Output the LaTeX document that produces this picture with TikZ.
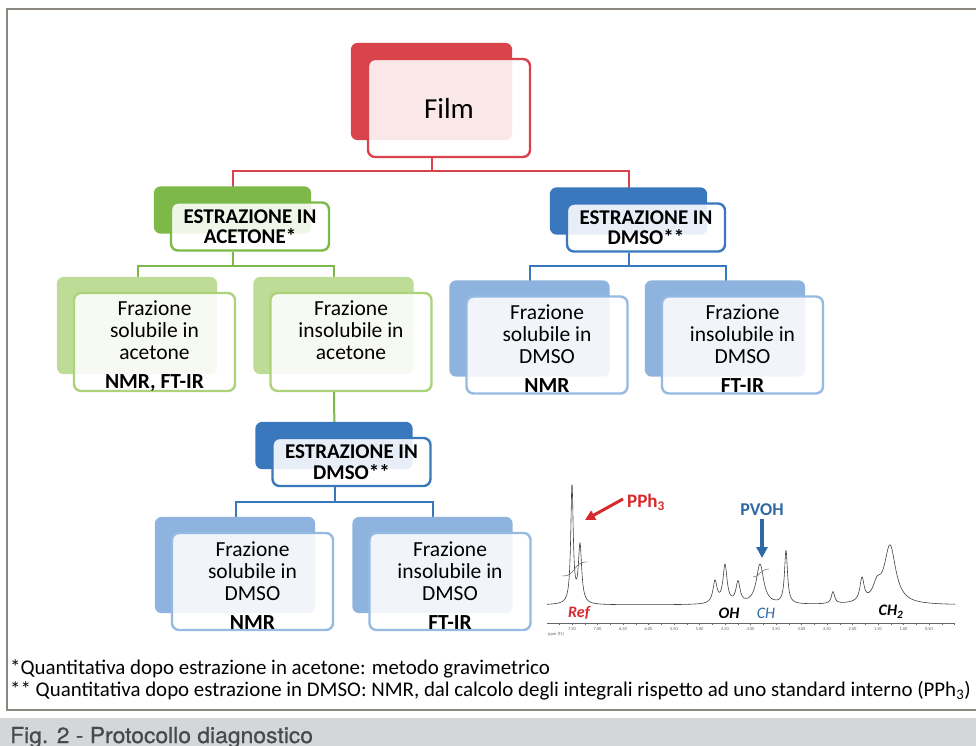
\documentclass[tikz,border=0pt]{standalone}
\usepackage{fontspec}
\setmainfont{Carlito}
\newfontfamily\capfont[FakeStretch=1.04, FakeBold=0.5]{TeX Gyre Heros}
\usetikzlibrary{calc,backgrounds,arrows.meta}

\definecolor{filmred}{RGB}{217,67,75}
\definecolor{acegreen}{RGB}{124,185,72}
\definecolor{acelight}{RGB}{190,220,150}
\definecolor{acerim}{RGB}{172,210,122}
\definecolor{dmsoblue}{RGB}{58,120,190}
\definecolor{dmsolight}{RGB}{141,179,222}
\definecolor{dmsorim}{RGB}{150,186,226}
\definecolor{framegrey}{RGB}{140,134,128}
\definecolor{capgrey}{RGB}{213,214,216}
\definecolor{captext}{RGB}{72,73,77}
\definecolor{pphred}{RGB}{215,40,45}
\definecolor{pvohblue}{RGB}{46,104,166}

\newcommand{\toprule}{\rule{0pt}{22pt}}

\tikzset{
	card/.style={draw, line width=2.4pt, rounded corners=7pt, fill=white, fill opacity=0.88, text opacity=1, inner sep=0pt, align=center},
	filmcard/.style={card, draw=filmred, minimum width=162pt, minimum height=98pt, font=\fontsize{29}{30}\selectfont},
	headcard/.style={card, minimum width=158pt, minimum height=48pt, font=\fontsize{21}{20.5}\selectfont\bfseries},
	fraccard/.style={card, minimum width=161pt, minimum height=97pt, font=\fontsize{21.5}{22}\selectfont},
	link/.style={line width=2pt},
	peaklabel/.style={inner sep=0pt, font=\fontsize{16}{16}\selectfont\bfseries\itshape},
	ticklabel/.style={inner sep=0pt, font=\fontsize{4.5}{4.5}\selectfont, text=black!60},
	note/.style={anchor=west, inner sep=0pt, font=\fontsize{20.9}{22}\selectfont},
}

\begin{document}
\begin{tikzpicture}[x=1pt, y=-1pt,
	declare function={lor(\d,\w,\h)=\h*\w*\w/(\w*\w+\d*\d);
		spec(\t)=lor(\t-57.2,0.15,118)+lor(\t-58.0,0.2,58)+lor(\t-71.5,0.25,22)
			+lor(\t-72.5,0.25,38)+lor(\t-73.8,0.25,21)+lor(\t-76.0,0.45,40)
			+lor(\t-78.6,0.18,53)+lor(\t-83.3,0.2,12)+lor(\t-86.2,0.25,23)
			+lor(\t-87.7,0.5,15)+lor(\t-89.0,0.7,58);}]
	\useasboundingbox (0,0) rectangle (976,746);
	\pgfmathsetmacro{\dx}{-17}		%connectors run left of the card centre
	\pgfmathsetmacro{\bar}{13}		%drop down to the horizontal bar

	%frame and caption band
	\draw[framegrey, line width=1.6pt] (990,710) -- (7,710) -- (7,9) -- (990,9);
	\fill[capgrey] (0,718) rectangle (976,746);

	%cards
	\node[filmcard] (film) at (449,108) {Film};
	\node[headcard, draw=acegreen] (acehead) at (250,226.5) {ESTRAZIONE IN\\ACETONE*};
	\node[headcard, draw=dmsoblue] (dmsohead) at (646,227.5) {ESTRAZIONE IN\\DMSO**};
	\node[fraccard, draw=acerim] (acesol) at (154.5,342) {\toprule Frazione\\solubile in\\acetone\\[7pt]\textbf{NMR, FT-IR}};
	\node[fraccard, draw=acerim] (aceins) at (351,342) {\toprule Frazione\\insolubile in\\acetone\\[7pt]\textbf{\phantom{NMR, FT-IR}}};
	\node[fraccard, draw=dmsorim] (dmsosol) at (547,345) {\toprule Frazione\\solubile in\\DMSO\\[7pt]\textbf{NMR}};
	\node[fraccard, draw=dmsorim] (dmsoins) at (742.5,345) {\toprule Frazione\\insolubile in\\DMSO\\[7pt]\textbf{FT-IR}};
	\node[headcard, draw=dmsoblue] (dmsoheadb) at (351.5,462) {ESTRAZIONE IN\\DMSO**};
	\node[fraccard, draw=dmsorim] (dmsosolb) at (252.5,581.5) {\toprule Frazione\\solubile in\\DMSO\\[7pt]\textbf{NMR}};
	\node[fraccard, draw=dmsorim] (dmsoinsb) at (450,581.5) {\toprule Frazione\\insolubile in\\DMSO\\[7pt]\textbf{FT-IR}};

	\begin{pgfonlayer}{background}
		%connectors
		\draw[link, filmred] ($(film.south)+(\dx,0)$) -- ++(0,\bar) -| ($(acehead.north)+(\dx,0)$);
		\draw[link, filmred] ($(film.south)+(\dx,0)$) -- ++(0,\bar) -| ($(dmsohead.north)+(\dx,0)$);
		\draw[link, acegreen] ($(acehead.south)+(\dx,0)$) -- ++(0,14) -| ($(acesol.north)+(\dx,0)$);
		\draw[link, acegreen] ($(acehead.south)+(\dx,0)$) -- ++(0,14) -| ($(aceins.north)+(\dx,0)$);
		\draw[link, acegreen] ($(aceins.south)+(\dx,0)$) -- ($(dmsoheadb.north)+(\dx,0)$);
		\draw[link, dmsoblue] ($(dmsohead.south)+(\dx,0)$) -- ++(0,13) -| ($(dmsosol.north)+(\dx,0)$);
		\draw[link, dmsoblue] ($(dmsohead.south)+(\dx,0)$) -- ++(0,13) -| ($(dmsoins.north)+(\dx,0)$);
		\draw[link, dmsoblue] ($(dmsoheadb.south)+(\dx,0)$) -- ++(0,15) -| ($(dmsosolb.north)+(\dx,0)$);
		\draw[link, dmsoblue] ($(dmsoheadb.south)+(\dx,0)$) -- ++(0,15) -| ($(dmsoinsb.north)+(\dx,0)$);

		%shadow cards behind
		\foreach \n/\c in {film/filmred, acehead/acegreen, dmsohead/dmsoblue, acesol/acelight, aceins/acelight,
			dmsosol/dmsolight, dmsoins/dmsolight, dmsoheadb/dmsoblue, dmsosolb/dmsolight, dmsoinsb/dmsolight}
			\fill[\c, rounded corners=7pt] ($(\n.north west)+(-16,-15)$) rectangle ($(\n.south east)+(-19,-18)$);
	\end{pgfonlayer}

	%spectrum
	\draw[black!75, line width=0.6pt] plot[domain=54.7:95.5, samples=1200] (10*\x, {605-spec(\x)});
	\draw[black!70, line width=0.4pt] (562,576) .. controls (576,577) and (573,561) .. (588,562);
	\draw[black!70, line width=0.4pt] (753,577) .. controls (761,576) and (760,569) .. (769,569);
	\draw[black!60, line width=0.5pt] (547,623) -- (955,623);
	\foreach \k in {-1,...,30}
		\draw[black!60, line width=0.4pt] (572+\k*12.75,623) -- ++(0,2);
	\foreach \v [count=\i from 0] in {7.50,7.00,6.50,6.00,5.50,5.00,4.50,4.00,3.50,3.00,2.50,2.00,1.50,1.00,0.50}
		\node[ticklabel] (tick\i) at (572+\i*25.5,629) {\v};
	\node[ticklabel, anchor=west] (ppmaxis) at (548,634) {ppm (f1)};

	\node[peaklabel, text=pphred] (ref) at (579,613) {Ref};
	\node[peaklabel] (oh) at (729,613) {OH};
	\node[peaklabel, text=pvohblue, font=\fontsize{16}{16}\selectfont\itshape] (ch) at (766,613) {CH};
	\node[peaklabel] (chtwo) at (891,612) {CH\textsubscript{2}};
	\node[inner sep=0pt, text=pphred, font=\fontsize{19}{19}\selectfont\bfseries] (pph) at (646,502) {PPh\textsubscript{3}};
	\node[inner sep=0pt, text=pvohblue, font=\fontsize{18}{18}\selectfont\bfseries] (pvoh) at (762,510) {PVOH};
	\coordinate (refpeak) at (585,520);
	\coordinate (chpeak) at (762,558);
	\draw[pphred, line width=3pt, -{Triangle[length=10pt,width=10pt]}] ($(pph.west)+(-4,-3)$) -- (refpeak);
	\draw[pvohblue, line width=3.5pt, -{Triangle[length=11pt,width=11pt]}] ($(pvoh.south)+(0,3)$) -- (chpeak);

	%notes
	\node[note] (noteone) at (10,669) {*Quantitativa dopo estrazione in acetone: metodo gravimetrico};
	\node[note] (notetwo) at (10,691) {** Quantitativa dopo estrazione in DMSO: NMR, dal calcolo degli integrali rispetto ad uno standard interno (PPh\textsubscript{3})};
	\node[anchor=base west, inner sep=0pt, text=captext, font=\capfont\fontsize{22}{22}\selectfont] (caption) at (10,743) {Fig. 2 - Protocollo diagnostico};
\end{tikzpicture}
\end{document}
